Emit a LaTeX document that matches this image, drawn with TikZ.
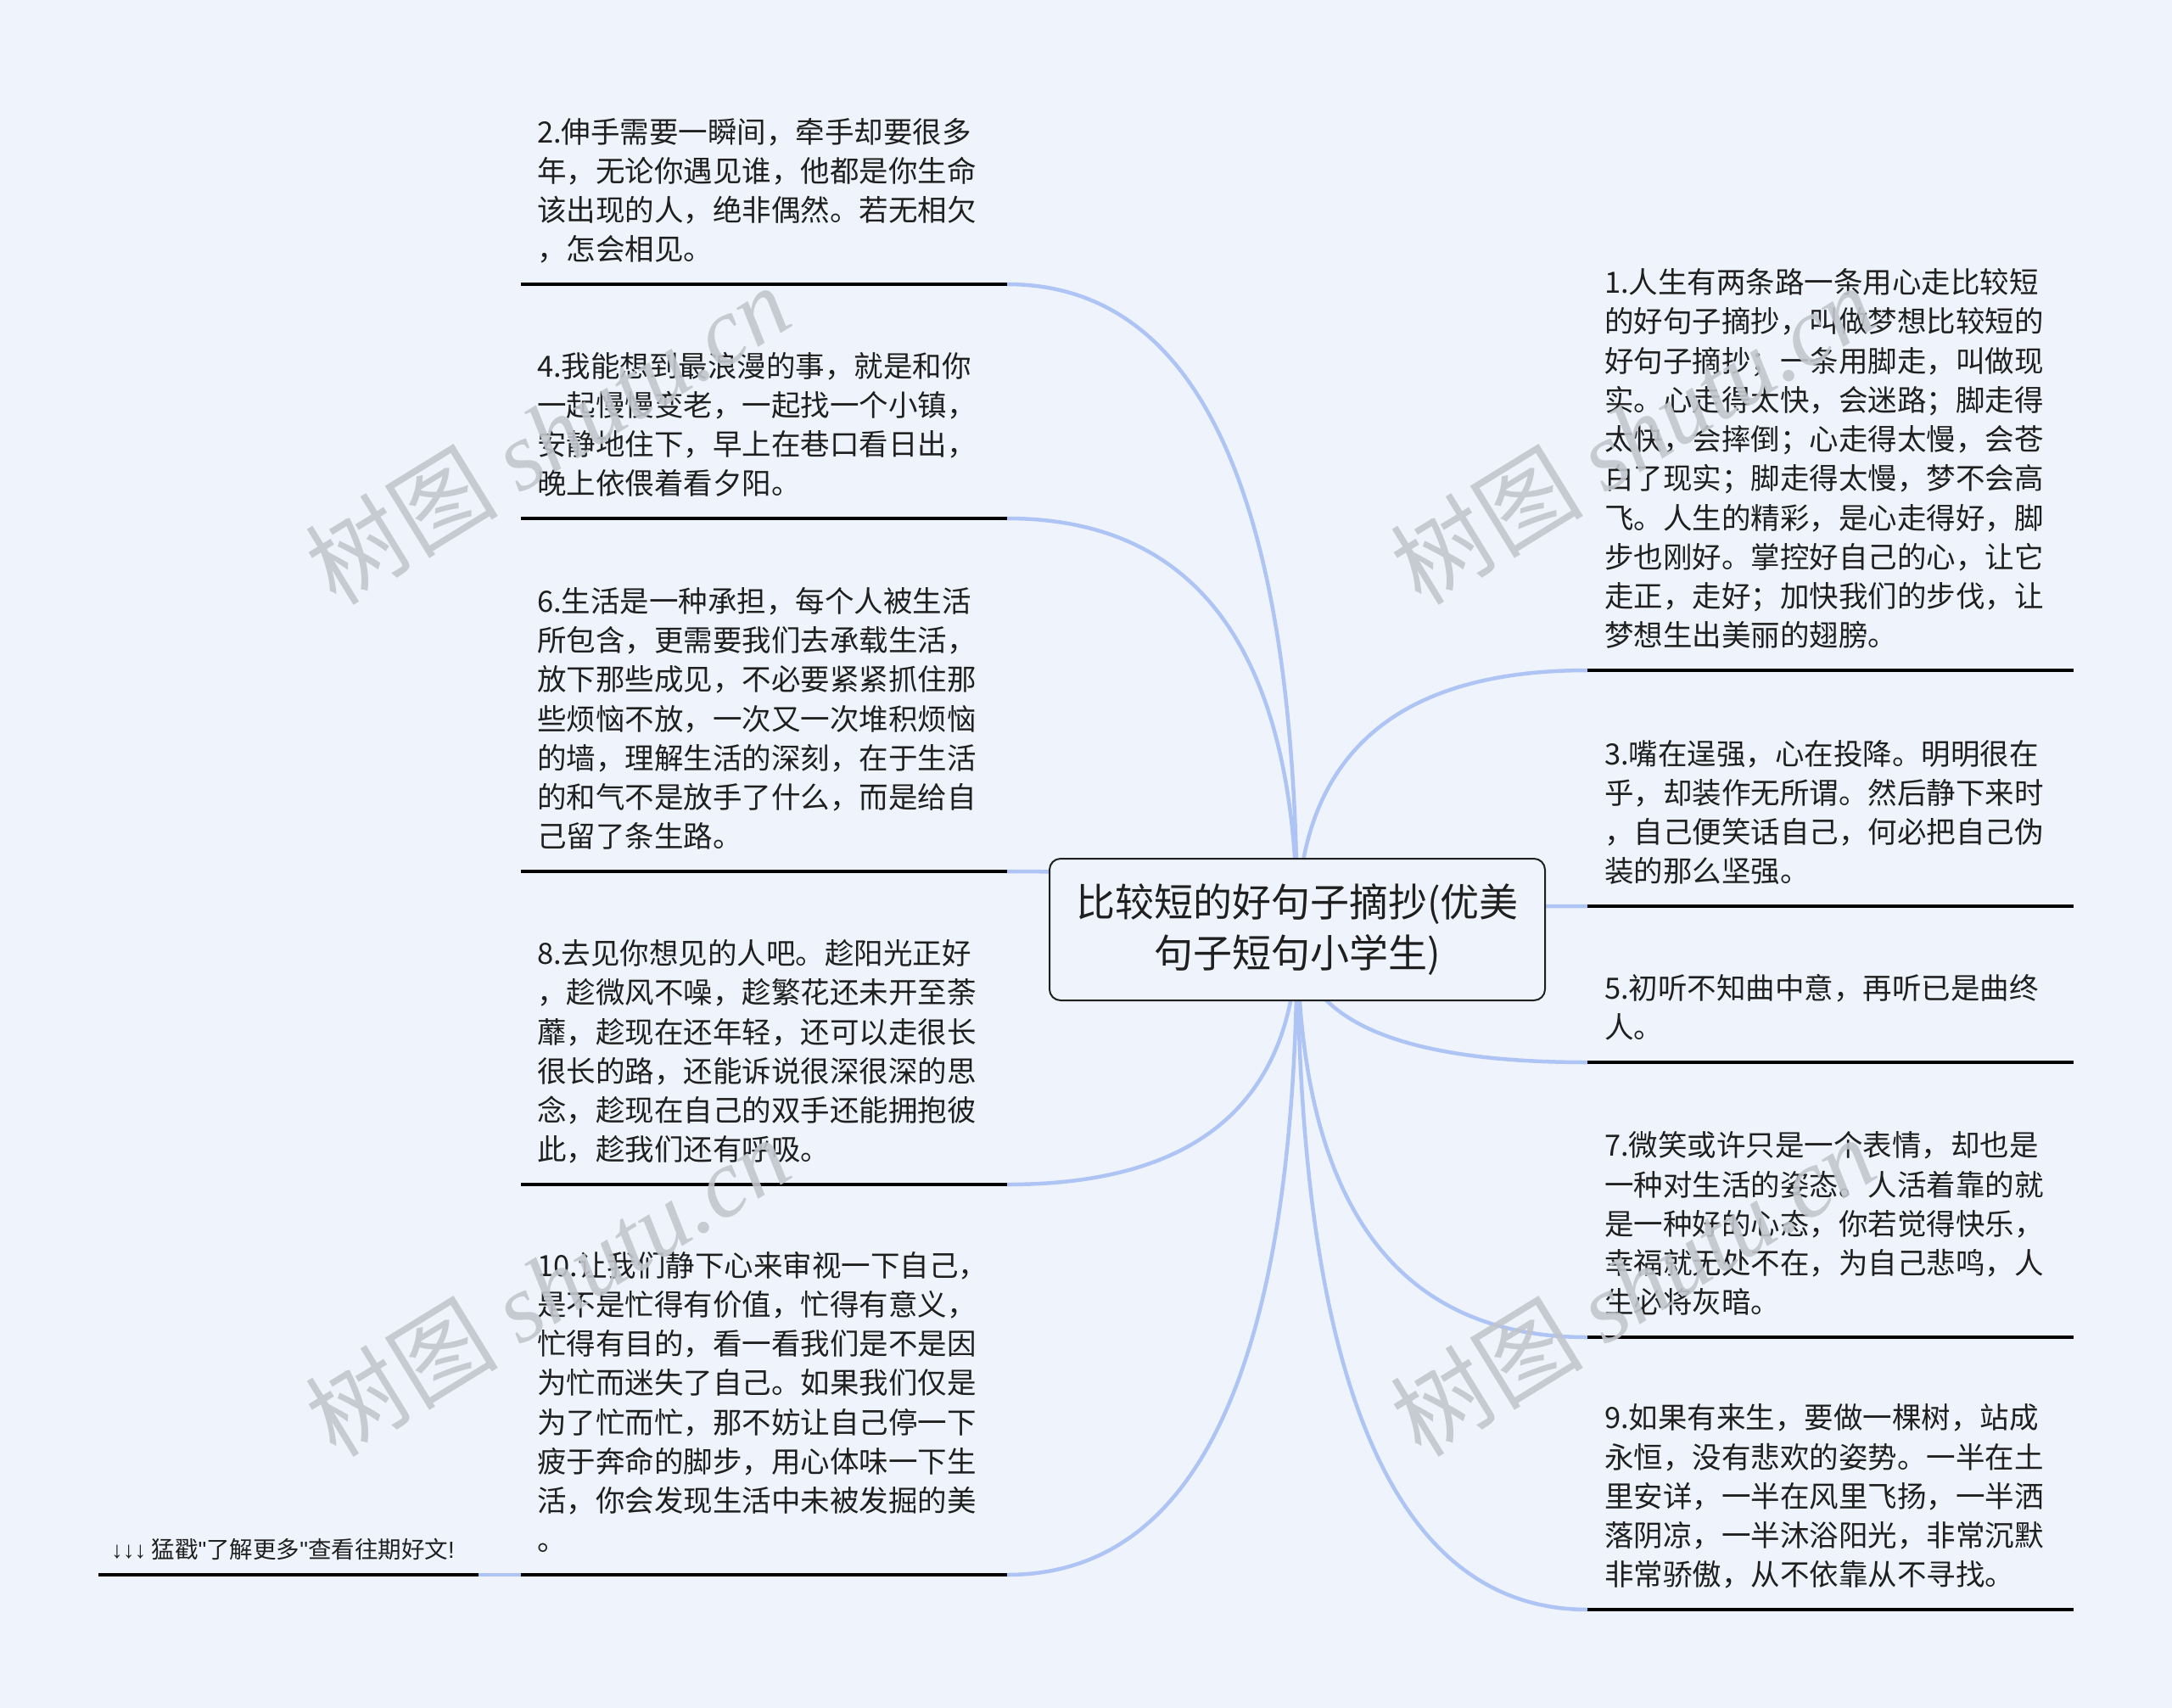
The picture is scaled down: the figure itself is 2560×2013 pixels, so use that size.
\documentclass[tikz,border=0pt]{standalone}
\usepackage{fontspec}
\setmainfont{Noto Sans CJK SC}
\newfontfamily\wmlatin{Liberation Serif}
\newfontfamily\lsans{Liberation Sans}
\usetikzlibrary{calc}
\definecolor{bgc}{HTML}{EFF4FC}
\definecolor{conc}{HTML}{ADC4F4}
\definecolor{txt}{HTML}{1F1F1F}
\definecolor{wmc}{HTML}{C2C6CD}
\newcommand\leaffont{\fontsize{34.5}{46.25}\selectfont}
\newcommand\rootfont{\fontsize{46}{60}\selectfont}
\newcommand\footfont{\fontsize{27.5}{34}\selectfont}
\newcommand\wmfont{\fontsize{114}{120}\selectfont}
\tikzset{
  leaf/.style={anchor=south west, align=left, inner sep=0pt, font=\leaffont, text=txt},
  uline/.style={line width=3.5pt, draw=black},
  conn/.style={line width=4.5pt, draw=conc},
  rootbox/.style={draw=txt, line width=2pt, fill=bgc, rounded corners=13pt, minimum width=584pt, minimum height=167pt, inner sep=0pt, align=center, font=\rootfont, text=txt},
  wmark/.style={text=wmc, text opacity=0.9, font=\wmfont, rotate=31.6, inner sep=0pt}
}
\begin{document}
\begin{tikzpicture}[x=1pt,y=-1pt]
\useasboundingbox (0,0) rectangle (2560,2013);
\fill[bgc] (0,0) rectangle (2560,2013);
% centre
\coordinate (cc) at (1529,1095.5);
% underline end points
\coordinate (s2) at (614,335);  \coordinate (e2) at (1187,335);
\coordinate (s4) at (614,611);  \coordinate (e4) at (1187,611);
\coordinate (s6) at (614,1027); \coordinate (e6) at (1187,1027);
\coordinate (s8) at (614,1396); \coordinate (e8) at (1187,1396);
\coordinate (s10) at (614,1856); \coordinate (e10) at (1187,1856);
\coordinate (fs) at (116,1856); \coordinate (fe) at (564,1856);
\coordinate (e1) at (1871,790);  \coordinate (s1) at (2444,790);
\coordinate (e3) at (1871,1068); \coordinate (s3) at (2444,1068);
\coordinate (e5) at (1871,1252); \coordinate (s5) at (2444,1252);
\coordinate (e7) at (1871,1576); \coordinate (s7) at (2444,1576);
\coordinate (e9) at (1871,1897); \coordinate (s9) at (2444,1897);
% connectors
\foreach \e in {e2,e4,e6,e8,e10,e1,e3,e5,e7,e9}{
  \draw[conn] (cc) .. controls ($(cc)!0.6667!(cc|-\e)$) and ($(\e)!0.6667!(cc|-\e)$) .. (\e);
}
\draw[conn] (s10) -- (fe);
% root
\node[rootbox] (root) at (cc) {比较短的好句子摘抄(优美\\句子短句小学生)};
% underlines
\draw[uline] (s2) -- (e2);
\draw[uline] (s4) -- (e4);
\draw[uline] (s6) -- (e6);
\draw[uline] (s8) -- (e8);
\draw[uline] (s10) -- (e10);
\draw[uline] (fs) -- (fe);
\draw[uline] (e1) -- (s1);
\draw[uline] (e3) -- (s3);
\draw[uline] (e5) -- (s5);
\draw[uline] (e7) -- (s7);
\draw[uline] (e9) -- (s9);
% left leaves
\node[leaf] (n2) at (633,321) {2.伸手需要一瞬间，牵手却要很多\\年，无论你遇见谁，他都是你生命\\该出现的人，绝非偶然。若无相欠\\，怎会相见。\strut};
\node[leaf] (n4) at (633,597) {4.我能想到最浪漫的事，就是和你\\一起慢慢变老，一起找一个小镇，\\安静地住下，早上在巷口看日出，\\晚上依偎着看夕阳。\strut};
\node[leaf] (n6) at (633,1013) {6.生活是一种承担，每个人被生活\\所包含，更需要我们去承载生活，\\放下那些成见，不必要紧紧抓住那\\些烦恼不放，一次又一次堆积烦恼\\的墙，理解生活的深刻，在于生活\\的和气不是放手了什么，而是给自\\己留了条生路。\strut};
\node[leaf] (n8) at (633,1382) {8.去见你想见的人吧。趁阳光正好\\，趁微风不噪，趁繁花还未开至荼\\蘼，趁现在还年轻，还可以走很长\\很长的路，还能诉说很深很深的思\\念，趁现在自己的双手还能拥抱彼\\此，趁我们还有呼吸。\strut};
\node[leaf] (n10) at (633,1842) {10.让我们静下心来审视一下自己，\\是不是忙得有价值，忙得有意义，\\忙得有目的，看一看我们是不是因\\为忙而迷失了自己。如果我们仅是\\为了忙而忙，那不妨让自己停一下\\疲于奔命的脚步，用心体味一下生\\活，你会发现生活中未被发掘的美\\。\strut};
\node[anchor=base west, inner sep=0pt, font=\footfont, text=txt] (foot) at (131,1836) {{\lsans ↓↓↓} 猛戳{\lsans "}了解更多{\lsans "}查看往期好文{\lsans !}};
% right leaves
\node[leaf] (n1) at (1891,776) {1.人生有两条路一条用心走比较短\\的好句子摘抄，叫做梦想比较短的\\好句子摘抄；一条用脚走，叫做现\\实。心走得太快，会迷路；脚走得\\太快，会摔倒；心走得太慢，会苍\\白了现实；脚走得太慢，梦不会高\\飞。人生的精彩，是心走得好，脚\\步也刚好。掌控好自己的心，让它\\走正，走好；加快我们的步伐，让\\梦想生出美丽的翅膀。\strut};
\node[leaf] (n3) at (1891,1054) {3.嘴在逞强，心在投降。明明很在\\乎，却装作无所谓。然后静下来时\\，自己便笑话自己，何必把自己伪\\装的那么坚强。\strut};
\node[leaf] (n5) at (1891,1238) {5.初听不知曲中意，再听已是曲终\\人。\strut};
\node[leaf] (n7) at (1891,1562) {7.微笑或许只是一个表情，却也是\\一种对生活的姿态。人活着靠的就\\是一种好的心态，你若觉得快乐，\\幸福就无处不在，为自己悲鸣，人\\生必将灰暗。\strut};
\node[leaf] (n9) at (1891,1883) {9.如果有来生，要做一棵树，站成\\永恒，没有悲欢的姿势。一半在土\\里安详，一半在风里飞扬，一半洒\\落阴凉，一半沐浴阳光，非常沉默\\非常骄傲，从不依靠从不寻找。\strut};
% watermarks
\node[wmark] (w1) at (645,512) {树图 {\wmlatin\itshape shutu.cn}};
\node[wmark] (w2) at (1924,512) {树图 {\wmlatin\itshape shutu.cn}};
\node[wmark] (w3) at (645,1516) {树图 {\wmlatin\itshape shutu.cn}};
\node[wmark] (w4) at (1924,1516) {树图 {\wmlatin\itshape shutu.cn}};
\end{tikzpicture}
\end{document}
